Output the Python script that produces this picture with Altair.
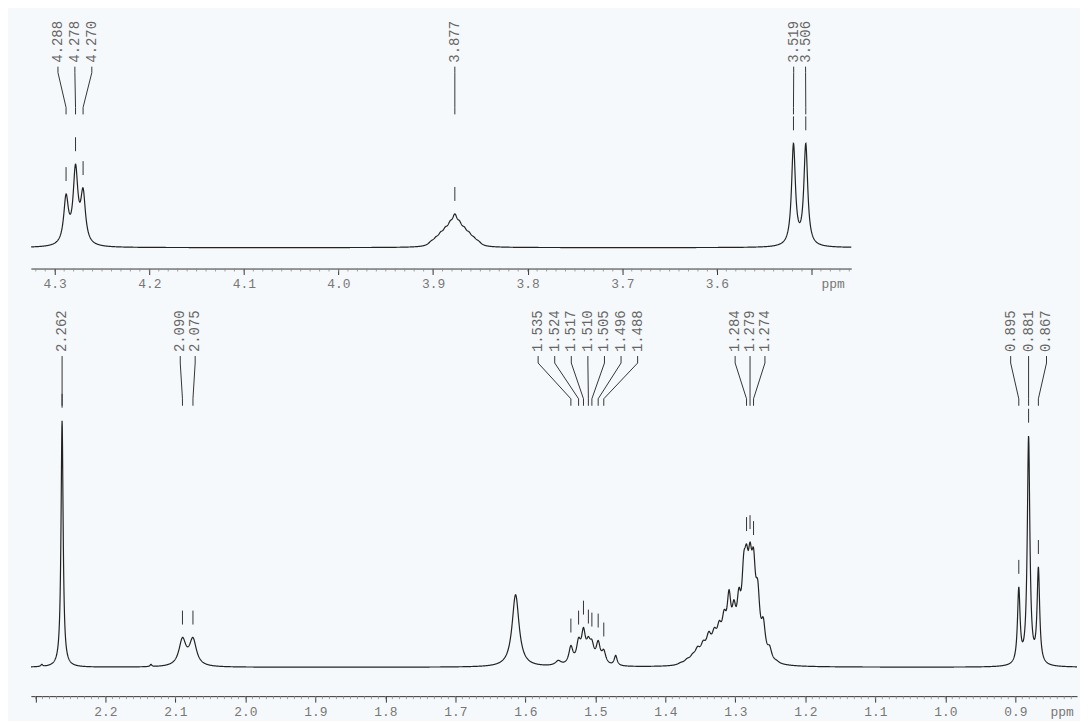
import altair as alt
import numpy as np
import pandas as pd

# ---------------- data ----------------
# Upper panel (4.33 - 3.46 ppm): line positions, observed heights, half widths
top_peak_ppm = [4.288, 4.278, 4.270,
                3.907, 3.902, 3.897, 3.892, 3.887, 3.882, 3.877,
                3.872, 3.867, 3.862, 3.857, 3.852, 3.847,
                3.519, 3.506]
top_peak_height = [54, 84, 60,
                   3, 7, 11, 16, 21, 27, 34,
                   27, 21, 16, 11, 7, 3,
                   105, 105]
top_peak_hw = [0.003, 0.003, 0.003,
               0.0035, 0.0035, 0.0035, 0.0035, 0.0035, 0.0035, 0.0035,
               0.0035, 0.0035, 0.0035, 0.0035, 0.0035, 0.0035,
               0.00245, 0.00245]
top_label_groups = [["4.288", "4.278", "4.270"], ["3.877"], ["3.519", "3.506"]]
top_axis_values = [4.3, 4.2, 4.1, 4.0, 3.9, 3.8, 3.7, 3.6, 3.5]

# Lower panel (2.31 - 0.81 ppm)
bot_peak_ppm = [2.291, 2.262, 2.135, 2.090, 2.075, 1.614,
                1.553, 1.535, 1.524, 1.517, 1.510, 1.505, 1.496, 1.488, 1.471,
                1.390, 1.378, 1.369, 1.361, 1.354, 1.346, 1.338, 1.330, 1.323,
                1.316, 1.309, 1.302, 1.295, 1.288, 1.284, 1.279, 1.274, 1.268,
                1.260, 1.251, 1.241, 1.232,
                0.895, 0.881, 0.867]
bot_peak_height = [3, 248, 3, 30, 30, 73,
                   7, 22, 30, 40, 31, 28, 27, 18, 12,
                   2, 5, 9, 14, 21, 27, 36, 40, 47,
                   58, 78, 68, 80, 115, 124, 126, 120, 88,
                   50, 22, 7, 2,
                   81, 233, 101]
bot_peak_hw = [0.0015, 0.0018, 0.0015, 0.006, 0.006, 0.006,
               0.005, 0.0035, 0.0035, 0.0035, 0.0035, 0.0035, 0.0035, 0.0035, 0.0025,
               0.005, 0.005, 0.005, 0.005, 0.0045, 0.0045, 0.0045, 0.0045, 0.004,
               0.004, 0.0035, 0.0035, 0.0035, 0.0035, 0.0035, 0.0035, 0.0035, 0.0035,
               0.0035, 0.0035, 0.004, 0.004,
               0.0022, 0.0022, 0.0022]
bot_label_groups = [["2.262"], ["2.090", "2.075"],
                    ["1.535", "1.524", "1.517", "1.510", "1.505", "1.496", "1.488"],
                    ["1.284", "1.279", "1.274"],
                    ["0.895", "0.881", "0.867"]]
bot_axis_values = [2.3, 2.2, 2.1, 2.0, 1.9, 1.8, 1.7, 1.6, 1.5, 1.4, 1.3, 1.2, 1.1, 1.0, 0.9]

# ---------------- layout ----------------
FONT = "Liberation Mono"
TOP = dict(lo=3.4579, hi=4.3252, width=825, height=260, ydom=[-21, 239],
           text_v=186, line_v=[182, 176, 141, 134], ppm_label=3.477,
           spacing={"4.288": 0.0179, "3.519": 0.0126},
           hide="datum.value < 3.55 ? '' : format(datum.value, '.1f')")
BOT = dict(lo=0.8118, hi=2.3066, width=1052, height=407, ydom=[-29, 378],
           text_v=317, line_v=[313, 306, 270, 263], ppm_label=0.833,
           spacing={"2.090": 0.0213, "1.535": 0.0237, "1.284": 0.0213, "0.895": 0.0256},
           hide="datum.value > 2.25 ? '' : format(datum.value, '.1f')")


def model(centers, heights, hws):
    c = np.array(centers, float)
    h = np.array(heights, float)
    w = np.array(hws, float)
    M = 1.0 / (1.0 + ((c[:, None] - c[None, :]) / w[None, :]) ** 2)
    amp = np.clip(np.linalg.solve(M, h), 0, None)

    def f(x):
        x = np.atleast_1d(np.asarray(x, float))
        return (amp[None, :] / (1.0 + ((x[:, None] - c[None, :]) / w[None, :]) ** 2)).sum(axis=1)
    return f


def panel(cfg, centers, heights, hws, groups, axis_values):
    f = model(centers, heights, hws)
    grid = np.arange(cfg["lo"], cfg["hi"], 0.0003)
    curve = pd.DataFrame({"ppm": np.round(grid, 5), "v": np.round(f(grid), 2)})

    texts, lines, picks = [], [], []
    gid = 0
    for g in groups:
        ps = [float(s) for s in g]
        n = len(ps)
        sp = cfg["spacing"].get(g[0], 0.0)
        center = float(np.mean(ps))
        for i, (s, p) in enumerate(zip(g, ps)):
            lx = center + ((n - 1) / 2.0 - i) * sp
            texts.append({"ppm": lx, "v": cfg["text_v"], "t": s})
            for k, (xx, vv) in enumerate(zip([lx, lx, p, p], cfg["line_v"])):
                lines.append({"id": gid, "o": k, "ppm": xx, "v": vv})
            hp = float(f(p)[0])
            picks.append({"ppm": p, "v": hp + 13, "v2": hp + 27})
            gid += 1
    texts, lines, picks = pd.DataFrame(texts), pd.DataFrame(lines), pd.DataFrame(picks)

    minor = pd.DataFrame({"ppm": np.round(np.arange(np.ceil(cfg["lo"] * 100) / 100, cfg["hi"], 0.01), 3)})
    ppm_df = pd.DataFrame({"ppm": [cfg["ppm_label"]], "t": ["ppm"]})

    xs = alt.Scale(domain=[cfg["lo"], cfg["hi"]], reverse=True, nice=False, zero=False)
    ys = alt.Scale(domain=cfg["ydom"], nice=False, zero=False)
    xaxis = alt.Axis(values=axis_values, labelExpr=cfg["hide"], title=None, grid=False,
                     domainColor="#333333", tickColor="#333333", tickSize=6,
                     labelFont=FONT, labelFontSize=13, labelColor="#777777", labelPadding=3)
    X = lambda: alt.X("ppm:Q", scale=xs, axis=xaxis)
    Y = lambda: alt.Y("v:Q", scale=ys, axis=None)

    spec = alt.Chart(curve).mark_line(color="#222222", strokeWidth=1.2).encode(x=X(), y=Y())
    lab = alt.Chart(texts).mark_text(angle=270, align="left", baseline="middle",
                                     font=FONT, fontSize=14, color="#666666").encode(
        x=X(), y=Y(), text="t:N")
    fan = alt.Chart(lines).mark_line(color="#333333", strokeWidth=1).encode(
        x=X(), y=Y(), detail="id:N", order="o:Q")
    pk = alt.Chart(picks).mark_rule(color="#333333", strokeWidth=1).encode(
        x=X(), y=Y(), y2="v2:Q")
    mt = alt.Chart(minor).mark_rule(color="#888888", strokeWidth=0.8).encode(
        x=X(), y=alt.value(cfg["height"]), y2=alt.value(cfg["height"] + 3))
    pt = alt.Chart(ppm_df).mark_text(font=FONT, fontSize=13, color="#777777", baseline="middle").encode(
        x=X(), y=alt.value(cfg["height"] + 16), text="t:N")
    return alt.layer(spec, fan, pk, lab, mt, pt).properties(width=cfg["width"], height=cfg["height"])


top = panel(TOP, top_peak_ppm, top_peak_height, top_peak_hw, top_label_groups, top_axis_values)
bot = panel(BOT, bot_peak_ppm, bot_peak_height, bot_peak_hw, bot_label_groups, bot_axis_values)

chart = alt.vconcat(top, bot, spacing=0).properties(
    padding={"left": 20, "top": 0, "right": 0, "bottom": 0},
    background="#f6f9fb",
).configure_view(stroke=None)

chart.save("out.html", embed_options={"renderer": "svg", "actions": False})
